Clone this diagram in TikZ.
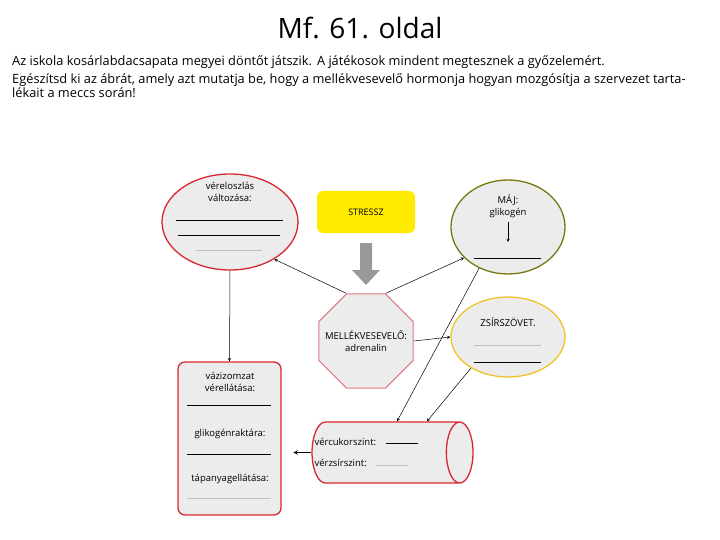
\documentclass[tikz,border=0pt]{standalone}
\usepackage{fontspec}
\setmainfont{Open Sans}
\usetikzlibrary{shapes.geometric}
\definecolor{boxgray}{RGB}{236,236,236}
\definecolor{redline}{RGB}{215,40,50}
\definecolor{pinkline}{RGB}{225,120,130}
\definecolor{oliveline}{RGB}{120,120,20}
\definecolor{goldline}{RGB}{240,195,40}
\definecolor{stressyellow}{RGB}{255,235,0}
\tikzset{
  blob/.style={ellipse, draw, line width=1.3pt, fill=boxgray},
  lbl/.style={font=\fontsize{9.5}{12}\selectfont, align=center},
  blank/.style={line width=0.8pt},
  faint/.style={line width=0.5pt, gray!50},
  link/.style={->, >=stealth, line width=0.5pt}
}
\begin{document}
\begin{tikzpicture}[x=1pt, y=-1pt]
        \useasboundingbox (0,0) rectangle (720,540);
        \node (title) at (360,28) {\fontsize{28}{30}\selectfont Mf. 61. oldal};
        \node (task) [anchor=north west, align=left, inner sep=0pt, text width=710pt] at (12,55) {
            \fontsize{12.8}{18.5}\selectfont Az iskola kosárlabdacsapata megyei döntőt játszik. A játékosok mindent megtesznek a győzelemért.\\
            Egészítsd ki az ábrát, amely azt mutatja be, hogy a mellékvesevelő hormonja hogyan mozgósítja a szervezet tarta-\\
            lékait a meccs során!
        };

        % distribution of blood
        \node (blood) [blob, draw=redline, minimum width=136pt, minimum height=96pt] at (230,222) {};
        \node [lbl] at (230,192) {véreloszlás\\ változása:};
        \draw[blank] (176,220) -- (283,220);
        \draw[blank] (178,235) -- (280,235);
        \draw[faint] (196,250) -- (262,250);

        % stress box and arrow
        \node (stress) [rectangle, rounded corners=6pt, fill=stressyellow, minimum width=98pt, minimum height=42pt] at (366,212) {\fontsize{9}{10}\selectfont STRESSZ};
        \fill[gray!80] (360,243) -- (372,243) -- (372,270) -- (380,270) -- (366,285) -- (352,270) -- (360,270) -- cycle;

        % adrenal medulla
        \node (gland) [regular polygon, regular polygon sides=8, draw=pinkline, line width=1.2pt, fill=boxgray, minimum size=102pt] at (366,341) {};
        \node [lbl] at (366,341) {MELLÉKVESEVELŐ:\\ adrenalin};

        % liver
        \node (liver) [blob, draw=oliveline, minimum width=114pt, minimum height=94pt] at (508,227) {};
        \node [lbl] at (508,206) {MÁJ:\\ glikogén};
        \draw[link] (508,222) -- (508,242);
        \draw[blank] (474,258) -- (541,258);

        % fat tissue
        \node (fat) [blob, draw=goldline, minimum width=114pt, minimum height=80pt] at (508,337) {};
        \node [lbl] at (508,322) {ZSÍRSZÖVET.};
        \draw[faint] (474,345) -- (541,345);
        \draw[blank] (474,362) -- (541,362);

        % skeletal muscle
        \node (muscle) [rectangle, rounded corners=7pt, draw=redline, line width=1.3pt, fill=boxgray, minimum width=103pt, minimum height=153pt] at (229.5,438.5) {};
        \node [lbl] at (230,382) {vázizomzat\\ vérellátása:};
        \draw[blank] (187,405) -- (271,405);
        \node [lbl] at (230,434) {glikogénraktára:};
        \draw[blank] (187,454) -- (271,454);
        \node [lbl] at (230,479) {tápanyagellátása:};
        \draw[faint] (187,498) -- (271,498);

        % blood vessel
        \node (vessel) [cylinder, draw=redline, line width=1.3pt, fill=boxgray, minimum width=61pt, minimum height=161pt, aspect=4] at (382.5,452.5) {};
        \node [lbl, anchor=west] at (311,442) {vércukorszint:};
        \draw[blank] (386,443) -- (418,443);
        \node [lbl, anchor=west] at (311,463) {vérzsírszint:};
        \draw[faint] (376,465) -- (408,465);

        % connectors
        \draw[link] (blood.south) -- (muscle.north);
        \draw[link] (gland.corner 2) -- (blood.-40);
        \draw[link] (gland.corner 1) -- (liver.215);
        \draw[link] (gland.east) -- (fat.west);
        \draw[link] (liver.235) -- (vessel.65);
        \draw[link] (fat.220) -- (vessel.35);
        \draw[link, line width=1pt] (vessel.west) -- ++(-18,0) coordinate (into);
\end{tikzpicture}
\end{document}
